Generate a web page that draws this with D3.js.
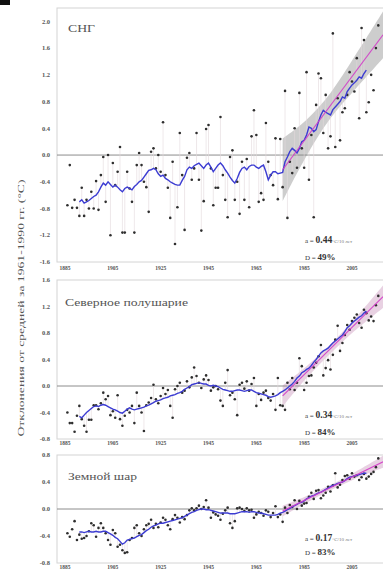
<!DOCTYPE html>
<html><head><meta charset="utf-8">
<script src="https://cdn.jsdelivr.net/npm/d3@7"></script>
<style>body{margin:0;background:#fff}svg{display:block}</style>
</head><body>
<script>
// ---------- DATA ----------
const firstYear = 1886;      // first annual value
const smoothStart = 1891;    // first 11-year running-mean value
const yearTicks = [1885, 1905, 1925, 1945, 1965, 1985, 2005];
const cisTicks = [-1.6, -1.2, -0.8, -0.4, 0.0, 0.4, 0.8, 1.2, 1.6, 2.0];
const nhTicks = [-0.8, -0.4, 0.0, 0.4, 0.8, 1.2, 1.6];
const globeTicks = [-0.8, -0.4, 0.0, 0.4, 0.8];
const regionNames = ["СНГ", "Северное полушарие", "Земной шар"];
const trendCoef = ["0.44", "0.34", "0.17"];
const trendShare = ["49%", "84%", "83%"];

const cisValues = [
 -0.75,-0.15,-0.79,-0.67,-0.79,-0.91,-0.49,-0.91,-0.67,-0.80,
 -0.55,-0.80,-0.39,-0.82,-0.30,-0.03,-0.70,0.00,-1.20,-0.12,
 -0.45,-0.25,0.12,-1.16,-1.16,-0.25,-0.50,-0.70,-1.16,-0.15,
 0.03,-0.15,-0.40,-0.48,-0.85,0.05,0.10,-0.20,0.00,-0.25,
 0.49,-0.30,-0.49,-0.94,-0.10,-1.33,-0.78,0.33,-0.30,-1.12,
 -0.04,0.03,-0.37,-0.20,0.33,-0.37,-1.13,-0.69,0.39,0.45,
 -0.20,-0.75,-0.49,-0.49,0.57,-0.30,-0.67,-0.93,-0.03,0.07,
 -0.67,-0.40,-0.88,-0.10,-0.67,-0.06,-0.78,0.28,0.67,0.30,
 -0.70,-0.57,-0.67,0.48,-0.10,-0.30,-0.45,0.25,-0.66,0.24,
 -0.48,0.96,-0.94,-0.10,-0.27,0.40,-0.19,0.93,0.10,-0.19,
 1.24,-0.37,0.30,-0.93,0.75,1.22,1.15,0.33,0.90,0.10,
 0.28,1.82,0.12,0.85,0.22,0.64,0.70,0.90,1.24,1.10,
 0.95,1.45,0.55,1.90,1.72,0.64,0.79,1.20,0.97,1.60,
 1.94];
const nhValues = [
 -0.40,-0.56,-0.56,-0.69,-0.45,-0.30,-0.50,-0.60,-0.69,-0.51,
 -0.51,-0.29,-0.29,-0.35,-0.26,-0.10,-0.20,-0.15,-0.44,-0.38,
 -0.48,-0.14,-0.50,-0.60,-0.45,-0.36,-0.40,-0.30,-0.56,-0.10,
 -0.30,-0.40,-0.68,-0.29,-0.25,-0.18,0.02,-0.20,-0.26,-0.15,
 -0.03,-0.12,-0.06,-0.30,-0.48,-0.05,0.00,0.05,-0.10,-0.07,
 0.07,-0.02,0.13,0.28,0.15,0.05,-0.03,0.10,0.16,0.09,
 -0.07,-0.02,0.00,-0.05,-0.22,-0.30,0.05,0.24,-0.14,-0.10,
 -0.20,-0.44,0.02,0.05,-0.04,0.07,-0.07,0.03,0.12,-0.30,
 -0.12,-0.21,-0.10,-0.07,-0.18,-0.22,-0.12,-0.36,0.12,-0.29,
 -0.30,-0.36,0.05,-0.05,0.12,-0.06,0.05,0.42,0.30,-0.06,
 0.05,0.15,0.16,0.28,0.35,0.45,0.62,0.16,0.27,0.39,
 0.25,0.47,0.70,0.91,0.53,0.65,0.77,0.92,0.85,0.98,
 1.03,1.08,0.95,0.88,1.15,1.10,0.99,1.05,0.98,1.22,
 1.36];
const globeValues = [
 -0.36,-0.41,-0.30,-0.18,-0.46,-0.38,-0.44,-0.43,-0.40,-0.33,
 -0.21,-0.24,-0.41,-0.28,-0.21,-0.28,-0.36,-0.46,-0.53,-0.31,
 -0.36,-0.56,-0.53,-0.61,-0.65,-0.64,-0.46,-0.43,-0.28,-0.24,
 -0.36,-0.40,-0.30,-0.24,-0.22,-0.16,-0.28,-0.22,-0.27,-0.20,
 -0.13,-0.16,-0.24,-0.30,-0.15,-0.09,-0.13,-0.20,-0.12,-0.15,
 -0.09,-0.02,0.01,-0.02,0.01,0.05,0.00,0.03,0.13,0.02,
 -0.13,-0.05,-0.08,-0.10,-0.16,-0.07,-0.02,0.02,-0.21,-0.28,
 -0.18,0.01,0.02,0.00,-0.03,0.01,-0.02,-0.01,-0.13,-0.08,
 -0.04,-0.06,-0.10,-0.02,-0.04,-0.12,-0.06,0.04,-0.12,-0.08,
 -0.19,0.02,-0.06,0.06,0.03,0.13,0.00,0.12,0.05,0.08,
 0.09,0.18,0.24,0.15,0.27,0.28,0.16,0.20,0.24,0.33,
 0.26,0.35,0.53,0.32,0.36,0.43,0.49,0.50,0.45,0.53,
 0.48,0.50,0.43,0.47,0.52,0.45,0.48,0.52,0.55,0.62,
 0.75];

const cisSmooth = [
 -0.70,-0.67,-0.72,-0.70,-0.68,-0.65,-0.62,-0.60,-0.55,-0.48,
 -0.42,-0.45,-0.40,-0.44,-0.48,-0.45,-0.48,-0.52,-0.55,-0.50,
 -0.48,-0.50,-0.52,-0.47,-0.44,-0.40,-0.38,-0.33,-0.28,-0.23,
 -0.22,-0.20,-0.22,-0.28,-0.32,-0.30,-0.35,-0.37,-0.40,-0.42,
 -0.44,-0.45,-0.45,-0.38,-0.32,-0.22,-0.18,-0.20,-0.16,-0.14,
 -0.12,-0.16,-0.20,-0.15,-0.12,-0.18,-0.25,-0.20,-0.15,-0.12,
 -0.16,-0.22,-0.27,-0.33,-0.38,-0.42,-0.35,-0.26,-0.20,-0.18,
 -0.22,-0.17,-0.15,-0.15,-0.18,-0.20,-0.17,-0.15,-0.25,-0.37,
 -0.30,-0.25,-0.25,-0.28,-0.27,-0.26,-0.10,-0.03,0.05,0.10,
 0.07,0.03,0.10,0.20,0.22,0.30,0.42,0.40,0.35,0.38,
 0.50,0.60,0.67,0.64,0.62,0.60,0.68,0.72,0.76,0.80,
 0.87,0.85,0.95,1.00,1.05,1.08,1.12,1.17,1.15,1.22,
 1.27];
const nhSmooth = [
 -0.46,-0.48,-0.44,-0.40,-0.37,-0.34,-0.31,-0.30,-0.31,-0.29,
 -0.28,-0.29,-0.31,-0.33,-0.35,-0.36,-0.38,-0.40,-0.41,-0.38,
 -0.35,-0.33,-0.35,-0.36,-0.35,-0.34,-0.33,-0.32,-0.30,-0.29,
 -0.27,-0.25,-0.23,-0.22,-0.21,-0.19,-0.18,-0.17,-0.15,-0.14,
 -0.13,-0.11,-0.10,-0.08,-0.05,-0.03,-0.01,0.02,0.03,0.04,
 0.05,0.04,0.03,0.03,0.01,0.00,0.01,0.00,-0.01,-0.03,
 -0.05,-0.06,-0.07,-0.08,-0.08,-0.07,-0.06,-0.06,-0.07,-0.08,
 -0.07,-0.06,-0.06,-0.08,-0.10,-0.11,-0.12,-0.13,-0.14,-0.16,
 -0.17,-0.16,-0.15,-0.13,-0.10,-0.08,-0.06,-0.03,0.00,0.03,
 0.07,0.12,0.15,0.20,0.22,0.25,0.27,0.31,0.36,0.40,
 0.45,0.50,0.53,0.55,0.57,0.61,0.65,0.68,0.71,0.74,
 0.77,0.82,0.88,0.91,0.95,0.98,1.01,1.04,1.06,1.10,
 1.13];
const globeSmooth = [
 -0.34,-0.34,-0.35,-0.34,-0.33,-0.34,-0.34,-0.33,-0.34,-0.34,
 -0.33,-0.33,-0.35,-0.37,-0.39,-0.42,-0.44,-0.48,-0.52,-0.50,
 -0.46,-0.45,-0.44,-0.43,-0.41,-0.39,-0.38,-0.35,-0.32,-0.30,
 -0.27,-0.25,-0.24,-0.22,-0.21,-0.21,-0.20,-0.19,-0.18,-0.17,
 -0.16,-0.15,-0.14,-0.13,-0.11,-0.09,-0.07,-0.05,-0.04,-0.02,
 -0.01,0.00,0.00,-0.01,-0.01,-0.02,-0.03,-0.04,-0.05,-0.06,
 -0.06,-0.06,-0.06,-0.07,-0.07,-0.07,-0.06,-0.05,-0.04,-0.04,
 -0.04,-0.05,-0.04,-0.04,-0.05,-0.06,-0.06,-0.07,-0.08,-0.09,
 -0.09,-0.09,-0.09,-0.08,-0.06,-0.05,-0.03,-0.01,0.01,0.03,
 0.05,0.07,0.09,0.10,0.12,0.15,0.17,0.19,0.20,0.22,
 0.24,0.25,0.27,0.29,0.31,0.33,0.35,0.36,0.38,0.39,
 0.40,0.42,0.45,0.47,0.48,0.49,0.50,0.51,0.52,0.53,
 0.53];

// linear trends (1976 onwards) and their confidence bands
const trendYears = [1976, 2018];
const cisTrend = [-0.22, 1.80];
const nhTrend = [-0.15, 1.35];
const globeTrend = [-0.03, 0.70];
const cisBandYears = [1976, 1981, 1986, 1991, 1996, 2001, 2006, 2011, 2018];
const cisBandLow  = [-0.69, -0.34, -0.01, 0.29, 0.55, 0.77, 0.97, 1.17, 1.45];
const cisBandHigh = [0.25, 0.38, 0.53, 0.71, 0.93, 1.19, 1.47, 1.75, 2.15];
const bandYears = [1976, 1986, 1996, 2006, 2018];
const nhBandLow  = [-0.31, 0.12, 0.49, 0.83, 1.18];
const nhBandHigh = [0.01, 0.30, 0.63, 1.01, 1.52];
const globeBandLow  = [-0.11, 0.094, 0.278, 0.442, 0.61];
const globeBandHigh = [0.05, 0.194, 0.358, 0.542, 0.79];

// ---------- LAYOUT ----------
const W = 383, H = 570;
const left = 57;
const serif = "'Liberation Serif','DejaVu Serif',serif";
const svg = d3.select("body").append("svg").attr("width", W).attr("height", H)
  .style("background", "#fff");

const x = d3.scaleLinear().domain([1885, 2005]).range([65, 352]);

const panels = [
  {values: cisValues, smooth: cisSmooth, trend: cisTrend, bY: cisBandYears, bL: cisBandLow, bH: cisBandHigh,
   dom: [-1.6, 2.2], rng: [262, 8], ticks: cisTicks, yearY: 270, band: "#ababab", bandOp: 0.6,
   name: {x: 68, y: 32, len: 27}, ann: {y1: 243, y2: 260}},
  {values: nhValues, smooth: nhSmooth, trend: nhTrend, bY: bandYears, bL: nhBandLow, bH: nhBandHigh,
   dom: [-0.8, 1.6], rng: [439, 280], ticks: nhTicks, yearY: 445, band: "#d9b3cf", bandOp: 0.6,
   name: {x: 65, y: 306, len: 123}, ann: {y1: 418, y2: 435}},
  {values: globeValues, smooth: globeSmooth, trend: globeTrend, bY: bandYears, bL: globeBandLow, bH: globeBandHigh,
   dom: [-0.8, 0.8], rng: [563, 455], ticks: globeTicks, yearY: 568.5, band: "#d9b3cf", bandOp: 0.6,
   name: {x: 68, y: 480, len: 69}, ann: {y1: 541, y2: 555}}
];

// top-left black mark
svg.append("rect").attr("x", 0).attr("y", 0).attr("width", 10).attr("height", 5).attr("fill", "#111");

panels.forEach((p, i) => {
  const y = d3.scaleLinear().domain(p.dom).range(p.rng);
  const top = p.rng[1], bot = p.rng[0];
  const g = svg.append("g");
  const clipId = "clip" + i;
  svg.append("clipPath").attr("id", clipId).append("rect")
    .attr("x", left).attr("y", top).attr("width", W - left).attr("height", bot - top);

  // frame
  g.append("rect").attr("x", left).attr("y", top).attr("width", W - left + 5).attr("height", bot - top)
    .attr("fill", "none").attr("stroke", "#d4d4d4").attr("stroke-width", 1);

  const pg = g.append("g").attr("clip-path", `url(#${clipId})`);

  // band
  const bandData = p.bY.map((yr, k) => ({yr, lo: p.bL[k], hi: p.bH[k]}));
  pg.append("path").datum(bandData)
    .attr("d", d3.area().x(d => x(d.yr)).y0(d => y(d.lo)).y1(d => y(d.hi)).curve(d3.curveCatmullRom))
    .attr("fill", p.band).attr("opacity", p.bandOp);

  // zero line
  pg.append("line").attr("x1", left).attr("x2", W).attr("y1", y(0)).attr("y2", y(0))
    .attr("stroke", "#8c8c8c").attr("stroke-width", 1);

  const pts = p.values.map((v, k) => ({yr: firstYear + k, v}));
  const sm = p.smooth.map((v, k) => ({yr: smoothStart + k, v}));
  const smMap = new Map(sm.map(d => [d.yr, d.v]));

  // stems from annual value to running mean
  pg.selectAll("line.stem").data(pts.filter(d => smMap.has(d.yr))).join("line")
    .attr("class", "stem")
    .attr("x1", d => x(d.yr)).attr("x2", d => x(d.yr))
    .attr("y1", d => y(d.v)).attr("y2", d => y(smMap.get(d.yr)))
    .attr("stroke", "#e3d8dc").attr("stroke-width", 0.6);

  // dots
  pg.selectAll("circle").data(pts).join("circle")
    .attr("cx", d => x(d.yr)).attr("cy", d => y(d.v)).attr("r", 1.3)
    .attr("fill", "#2e2e2e");

  // running mean
  pg.append("path").datum(sm)
    .attr("d", d3.line().x(d => x(d.yr)).y(d => y(d.v)))
    .attr("fill", "none").attr("stroke", "#3c3cd2").attr("stroke-width", 1.4);

  // trend
  pg.append("path").datum(trendYears.map((yr, k) => ({yr, v: p.trend[k]})))
    .attr("d", d3.line().x(d => x(d.yr)).y(d => y(d.v)))
    .attr("fill", "none").attr("stroke", "#d23cc8").attr("stroke-width", 1.2).attr("opacity", 0.9);

  // y tick labels
  g.selectAll("text.yt").data(p.ticks).join("text").attr("class", "yt")
    .attr("x", 50).attr("y", d => y(d) + 2.2).attr("text-anchor", "end")
    .attr("font-family", serif).attr("font-weight", "bold").attr("font-size", 6.5).attr("fill", "#555")
    .text(d => d.toFixed(1));

  // year labels
  g.selectAll("text.xt").data(yearTicks).join("text").attr("class", "xt")
    .attr("x", d => x(d)).attr("y", p.yearY).attr("text-anchor", "middle")
    .attr("font-family", serif).attr("font-weight", "bold").attr("font-size", 5.5).attr("fill", "#555")
    .text(d => d);

  // region name
  g.append("text").attr("x", p.name.x).attr("y", p.name.y)
    .attr("font-family", serif).attr("font-size", 11).attr("fill", "#555")
    .attr("textLength", p.name.len).attr("lengthAdjust", "spacingAndGlyphs")
    .text(regionNames[i]);

  // annotations
  const a1 = g.append("text").attr("x", 305).attr("y", p.ann.y1).attr("font-family", serif).attr("fill", "#333");
  a1.append("tspan").attr("font-size", 7).text("a = ");
  a1.append("tspan").attr("font-size", 9.5).attr("font-weight", "bold").text(trendCoef[i]);
  a1.append("tspan").attr("font-size", 5).attr("fill", "#777").text("°C/10 лет");
  const a2 = g.append("text").attr("x", 305).attr("y", p.ann.y2).attr("font-family", serif).attr("fill", "#333");
  a2.append("tspan").attr("font-size", 7).text("D = ");
  a2.append("tspan").attr("font-size", 9).attr("font-weight", "bold").text(trendShare[i]);
});

// y axis title
svg.append("text")
  .attr("transform", "translate(24,308) rotate(-90)")
  .attr("text-anchor", "middle").attr("font-family", serif).attr("font-size", 9).attr("fill", "#555")
  .attr("textLength", 257).attr("lengthAdjust", "spacingAndGlyphs")
  .text("Отклонения от средней за 1961-1990 гг. (°C)");
</script>
</body></html>
